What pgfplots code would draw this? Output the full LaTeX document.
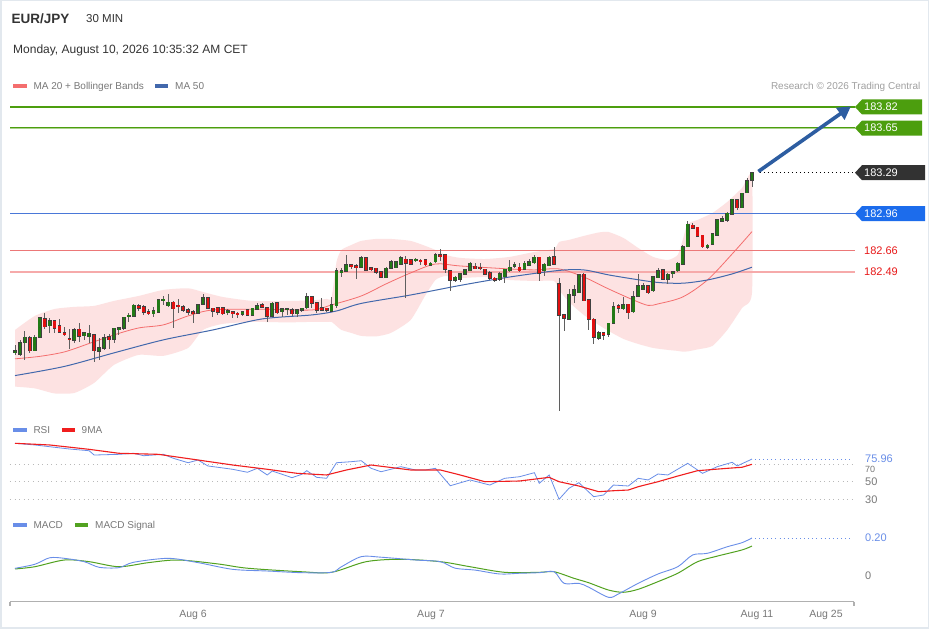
\documentclass[border=0pt]{standalone}
\usepackage{pgfplots}
\pgfplotsset{compat=1.18}
\usepackage{pgfplotstable}
\usetikzlibrary{arrows.meta}
\usepackage{fontspec}
\setmainfont{Liberation Sans}
\newcommand{\fs}[1]{\fontsize{#1}{#1}\selectfont}
\definecolor{upc}{RGB}{34,122,22}
\definecolor{dnc}{RGB}{226,16,16}
\definecolor{edgec}{RGB}{64,64,64}
\definecolor{wickc}{RGB}{95,95,95}
\definecolor{bandc}{RGB}{253,226,226}
\definecolor{ma20c}{RGB}{244,110,110}
\definecolor{ma50c}{RGB}{66,104,172}
\definecolor{tgreen}{RGB}{76,158,14}
\definecolor{tgreenl}{RGB}{170,210,140}
\definecolor{tblue}{RGB}{28,108,236}
\definecolor{lblue}{RGB}{74,120,216}
\definecolor{tdark}{RGB}{50,50,50}
\definecolor{lblred}{RGB}{232,24,24}
\definecolor{l66}{RGB}{236,120,120}
\definecolor{l49}{RGB}{246,170,170}
\definecolor{rsic}{RGB}{105,142,232}
\definecolor{marc}{RGB}{240,30,30}
\definecolor{sigc}{RGB}{82,162,32}
\definecolor{txtc}{RGB}{51,51,51}
\definecolor{legc}{RGB}{120,120,120}
\definecolor{resc}{RGB}{160,160,160}
\definecolor{gridc}{RGB}{185,185,185}
\definecolor{axc}{RGB}{176,176,176}
\definecolor{framec}{RGB}{226,232,238}
\definecolor{arrowc}{RGB}{45,93,161}

\pgfplotstableread{
i o h l c
0 181.845 181.901 181.821 181.853
1 181.829 181.942 181.813 181.920
2 181.920 182.014 181.780 181.963
4 181.855 181.979 181.851 181.963
5 181.963 182.125 181.960 182.119
7 182.057 182.119 182.000 182.097
12 181.942 182.036 181.915 182.022
14 181.976 182.008 181.942 182.000
15 181.968 182.063 181.915 181.996
17 181.853 181.955 181.780 181.877
18 181.875 181.988 181.861 181.960
20 181.947 182.040 181.915 182.036
21 182.028 182.049 181.982 182.038
22 182.036 182.130 182.022 182.125
23 182.130 182.159 182.089 182.141
24 182.135 182.232 182.132 182.221
28 182.154 182.205 182.125 182.178
29 182.165 182.274 182.157 182.264
30 182.258 182.296 182.224 182.270
31 182.218 182.312 182.210 182.245
37 182.157 182.230 182.154 182.226
38 182.229 182.312 182.226 182.283
43 182.165 182.191 182.143 182.175
46 182.149 182.175 182.135 182.170
48 182.143 182.202 182.135 182.197
49 182.191 182.237 182.183 182.216
52 182.135 182.250 182.130 182.237
54 182.170 182.202 182.130 182.191
55 182.186 182.202 182.143 182.191
57 182.154 182.191 182.127 182.186
58 182.181 182.202 182.170 182.197
59 182.202 182.318 182.191 182.288
64 182.175 182.291 182.170 182.224
65 182.218 182.519 182.202 182.498
66 182.487 182.524 182.452 182.498
67 182.498 182.627 182.495 182.546
70 182.528 182.621 182.519 182.605
75 182.445 182.530 182.439 182.519
76 182.519 182.586 182.511 182.573
77 182.524 182.581 182.521 182.570
78 182.554 182.619 182.546 182.605
81 182.581 182.602 182.570 182.592
84 182.544 182.570 182.538 182.560
85 182.573 182.641 182.565 182.627
89 182.425 182.458 182.409 182.447
90 182.431 182.482 182.409 182.474
91 182.474 182.517 182.466 182.506
92 182.501 182.570 182.494 182.560
98 182.431 182.490 182.417 182.474
99 182.452 182.519 182.404 182.513
100 182.501 182.586 182.490 182.528
101 182.538 182.570 182.521 182.548
103 182.513 182.579 182.506 182.560
104 182.546 182.597 182.538 182.573
105 182.565 182.627 182.554 182.608
107 182.501 182.560 182.458 182.552
108 182.542 182.619 182.538 182.608
112 182.111 182.350 182.107 182.310
113 182.304 182.385 182.237 182.345
114 182.323 182.474 182.320 182.466
118 181.955 182.014 181.942 182.000
120 181.990 182.081 181.968 182.076
121 182.076 182.250 182.071 182.210
123 182.194 182.286 182.183 182.224
125 182.170 182.339 182.162 182.291
126 182.296 182.474 182.291 182.379
127 182.353 182.404 182.345 182.379
129 182.339 182.458 182.331 182.452
130 182.444 182.519 182.439 182.498
132 182.431 182.479 182.398 182.471
133 182.479 182.498 182.439 182.490
134 182.501 182.573 182.493 182.560
135 182.554 182.707 182.546 182.694
136 182.694 182.901 182.689 182.874
140 182.689 182.715 182.673 182.707
141 182.715 182.801 182.710 182.796
142 182.788 182.915 182.780 182.909
143 182.901 182.941 182.893 182.917
144 182.909 182.976 182.896 182.963
145 182.955 183.081 182.950 183.076
147 183.008 183.129 183.003 183.124
148 183.129 183.245 183.124 183.226
149 183.231 183.298 183.177 183.290
}\upT

\pgfplotstableread{
i o h l c
3 181.958 181.976 181.839 181.855
6 182.113 182.162 182.028 182.049
8 182.097 182.103 181.996 182.036
9 182.054 182.111 181.996 182.004
10 182.000 182.049 181.974 181.988
11 181.950 182.030 181.867 181.945
13 182.028 182.081 181.928 181.976
16 181.982 181.990 181.767 181.855
19 181.968 181.988 181.869 181.942
25 182.216 182.232 182.178 182.200
26 182.210 182.221 182.141 182.167
27 182.167 182.194 182.146 182.154
32 182.245 182.258 182.041 182.194
33 182.220 182.274 182.157 182.212
34 182.210 182.224 182.167 182.183
35 182.183 182.197 182.143 182.165
36 182.170 182.183 182.081 182.157
39 182.283 182.291 182.191 182.197
40 182.197 182.202 182.130 182.175
41 182.202 182.210 182.143 182.165
42 182.202 182.210 182.143 182.154
44 182.170 182.175 182.117 182.154
45 182.157 182.165 182.117 182.151
47 182.183 182.191 182.135 182.141
50 182.224 182.237 182.202 182.208
51 182.202 182.210 182.089 182.133
53 182.242 182.250 182.154 182.162
56 182.186 182.202 182.135 182.154
60 182.288 182.296 182.197 182.237
61 182.240 182.250 182.157 182.181
62 182.202 182.278 182.175 182.181
63 182.197 182.202 182.170 182.181
68 182.546 182.552 182.514 182.532
69 182.538 182.552 182.431 182.530
71 182.605 182.613 182.498 182.503
72 182.524 182.530 182.494 182.508
73 182.519 182.524 182.475 182.487
74 182.492 182.498 182.439 182.449
79 182.592 182.619 182.278 182.560
80 182.586 182.594 182.546 182.554
82 182.586 182.592 182.546 182.578
83 182.586 182.594 182.538 182.548
86 182.627 182.673 182.581 182.619
87 182.627 182.635 182.479 182.513
88 182.501 182.506 182.339 182.425
93 182.538 182.562 182.514 182.519
94 182.528 182.560 182.506 182.517
95 182.513 182.517 182.466 182.474
96 182.484 182.498 182.425 182.439
97 182.439 182.449 182.409 182.425
102 182.528 182.562 182.490 182.501
106 182.608 182.613 182.417 182.479
109 182.613 182.694 182.546 182.554
110 182.393 182.444 181.369 182.143
111 182.143 182.151 182.016 182.115
115 182.471 182.484 182.256 182.258
116 182.264 182.270 182.025 182.107
117 182.108 182.117 181.910 181.963
119 182.000 182.008 181.942 181.982
122 182.218 182.229 182.162 182.197
124 182.229 182.232 182.108 182.162
128 182.379 182.385 182.312 182.323
131 182.506 182.511 182.425 182.431
137 182.868 182.882 182.834 182.842
138 182.850 182.855 182.775 182.780
139 182.786 182.791 182.681 182.694
146 183.070 183.076 182.989 183.008
}\dnT

% Bollinger envelope: upper band left to right, then lower band right to left
\pgfplotstableread{
i b
0 182.022
4 182.135
8 182.191
12 182.208
16 182.216
20 182.256
25 182.296
30 182.345
35 182.358
38 182.328
42 182.288
48 182.256
55 182.256
60 182.260
63 182.272
64 182.280
65 182.570
66 182.667
68 182.707
70 182.740
73 182.756
76 182.756
80 182.740
83 182.699
85 182.667
87 182.627
90 182.603
95 182.594
100 182.611
105 182.651
109 182.675
110 182.731
112 182.748
115 182.780
118 182.808
120 182.812
123 182.764
126 182.683
129 182.611
132 182.586
134 182.627
135 182.748
136 182.877
138 182.909
141 182.965
144 183.054
147 183.167
149 183.258
149 182.318
147 182.200
144 182.022
141 181.893
138 181.865
136 181.849
135 181.847
134 181.853
132 181.861
129 181.877
126 181.909
123 181.950
120 182.014
118 182.063
115 182.143
112 182.248
110 182.345
109 182.417
105 182.417
100 182.425
95 182.449
90 182.441
87 182.457
85 182.425
83 182.304
80 182.103
76 181.998
73 181.970
70 181.974
68 181.998
66 182.022
65 182.054
64 182.087
63 182.087
60 182.087
55 182.083
48 182.087
42 182.071
38 182.022
35 181.877
30 181.813
25 181.821
20 181.740
16 181.595
12 181.514
8 181.510
4 181.551
0 181.565
}\bandP

\pgfplotstableread{
i v
0 181.789
5 181.809
10 181.845
15 181.913
20 181.982
25 182.038
30 182.063
35 182.135
40 182.183
50 182.189
60 182.183
64 182.224
70 182.296
75 182.393
80 182.482
85 182.554
90 182.538
100 182.514
105 182.506
110 182.514
115 182.449
120 182.353
125 182.264
128 182.220
130 182.232
135 182.288
140 182.425
145 182.635
149 182.815
}\maA

\pgfplotstableread{
i v
0 181.654
10 181.728
20 181.837
30 181.942
40 182.022
50 182.111
60 182.143
65 182.175
70 182.236
80 182.304
90 182.381
100 182.449
110 182.502
115 182.506
120 182.466
125 182.433
130 182.405
135 182.399
140 182.425
145 182.474
149 182.528
}\maB

\pgfplotstableread{
i v
0 94.0
4 92.1
7 90.1
11 87.5
15 85.5
16 80.6
21 81.4
24 82.6
26 79.8
30 81.4
32 76.9
35 71.8
37 74.9
39 68.1
41 66.6
44 64.3
47 60.9
49 65.4
51 57.8
52 62.3
54 58.6
56 54.7
58 58.6
59 62.7
61 55.1
63 54.0
65 71.8
68 73.0
70 74.1
72 65.4
74 61.5
76 64.3
78 67.3
81 63.5
83 63.5
85 65.4
88 45.5
92 52.1
96 46.3
99 54.0
102 55.8
105 60.4
106 48.3
108 57.8
110 30.0
112 42.6
114 49.0
117 33.0
119 34.9
121 46.3
124 45.2
126 54.0
128 52.1
130 58.9
132 57.8
136 71.1
139 59.7
142 67.3
145 72.3
146 68.1
149 75.96
}\rsiT

\pgfplotstableread{
i v
0 94.0
7 92.1
15 87.1
21 82.6
29 81.4
37 74.9
44 69.2
51 64.3
57 59.7
63 57.8
67 63.5
72 69.2
80 63.5
86 63.5
90 57.8
95 50.1
102 50.9
108 55.1
110 50.1
114 45.2
118 38.7
121 39.8
124 40.6
126 44.4
130 50.1
134 56.6
138 62.7
144 65.4
147 66.6
149 70.0
}\rsimaT

\pgfplotstableread{
i v
0 0.0375
4 0.059
7 0.094
10 0.091
14 0.073
17 0.043
21 0.041
24 0.070
31 0.091
37 0.068
44 0.032
51 0.023
58 0.014
64 0.016
66 0.046
70 0.100
74 0.097
81 0.082
86 0.073
89 0.038
93 0.028
98 0.007
102 0.011
106 0.014
109 0.019
111 -0.043
114 -0.043
116 -0.064
120 -0.118
122 -0.100
126 -0.043
130 0.007
134 0.046
137 0.109
140 0.118
144 0.153
147 0.175
149 0.200
}\macdT

\pgfplotstableread{
i v
0 0.034
4 0.046
10 0.082
15 0.073
21 0.046
27 0.068
33 0.082
41 0.061
47 0.038
58 0.019
64 0.016
71 0.073
78 0.086
86 0.073
92 0.046
99 0.016
106 0.016
109 0.019
113 -0.016
116 -0.040
120 -0.079
123 -0.091
126 -0.075
130 -0.034
134 0.011
138 0.073
142 0.103
147 0.136
149 0.157
}\sigT

\pgfplotsset{
  panel/.style={scale only axis, width=844pt, xmin=-1.011, xmax=169.63,
    enlargelimits=false, clip=false, anchor=south west},
  wick/.style={only marks, mark size=0pt, mark options={draw=none, fill=none}, forget plot,
    error bars/.cd, y dir=both, y explicit, error mark=none,
    error bar style={draw=wickc, line width=0.8pt}},
  body/.style 2 args={only marks, mark size=0pt, mark options={draw=none, fill=none}, forget plot,
    error bars/.cd, y dir=both, y explicit, error mark=none,
    error bar style={draw=#1, line width=#2}},
}

\begin{document}
\begin{tikzpicture}
\fill[white] (0,0) rectangle (929pt,629pt);
\draw[framec, line width=1.5pt] (0.75pt,0.75pt) rectangle (928.25pt,628.25pt);

% titles
\node[anchor=base west, inner sep=0, text=txtc, font=\fs{13.5}\bfseries] at (11.5pt,605pt) {EUR/JPY};
\node[anchor=base west, inner sep=0, text=txtc, font=\fs{11.5}] at (86pt,606pt) {30 MIN};
\node[anchor=base west, inner sep=0, text=txtc, font=\fs{12}] at (13pt,575.7pt) {Monday, August 10, 2026 10:35:32 AM CET};
\fill[ma20c] (13.3pt,540.7pt) rectangle (26.7pt,544.7pt);
\node[anchor=base west, inner sep=0, text=legc, font=\fs{10}] at (33.3pt,539pt) {MA 20 + Bollinger Bands};
\fill[ma50c] (155.3pt,540.7pt) rectangle (168.3pt,544.7pt);
\node[anchor=base west, inner sep=0, text=legc, font=\fs{10}] at (175pt,539pt) {MA 50};
\node[anchor=base east, inner sep=0, text=resc, font=\fs{10}] at (920.5pt,539pt) {Research © 2026 Trading Central};

% RSI / MACD legends
\fill[rsic] (13.3pt,197pt) rectangle (26.7pt,201pt);
\node[anchor=base west, inner sep=0, text=legc, font=\fs{10}] at (33.3pt,195.5pt) {RSI};
\fill[marc] (62pt,197pt) rectangle (74.5pt,201pt);
\node[anchor=base west, inner sep=0, text=legc, font=\fs{10}] at (81.5pt,195.5pt) {9MA};
\fill[rsic] (13.3pt,101.5pt) rectangle (26.7pt,105.5pt);
\node[anchor=base west, inner sep=0, text=legc, font=\fs{10}] at (33.3pt,100.5pt) {MACD};
\fill[sigc] (75.3pt,101.5pt) rectangle (88pt,105.5pt);
\node[anchor=base west, inner sep=0, text=legc, font=\fs{10}] at (95pt,100.5pt) {MACD Signal};

% ---------------- price panel (plotted as price - 180)
\begin{axis}[panel, at={(10pt,209.52pt)}, height=324.88pt, ymin=1.30, ymax=3.92,
  axis lines=none, ticks=none, y filter/.expression={y-180}]
\addplot[fill=bandc, draw=none, forget plot, smooth, tension=0.35] table[x=i,y=b]{\bandP} -- cycle;

\addplot[tgreen, line width=2pt] coordinates {(-1.011,183.82) (169.83,183.82)};
\addplot[tgreen, line width=2.6pt] coordinates {(-1.011,183.65) (169.83,183.65)};
\addplot[tgreenl, line width=0.7pt] coordinates {(-1.011,183.65) (169.83,183.65)};
\addplot[lblue, line width=1.1pt] coordinates {(-1.011,182.96) (169.83,182.96)};
\addplot[l66, line width=1pt] coordinates {(-1.011,182.66) (169.83,182.66)};
\addplot[l49, line width=2pt] coordinates {(-1.011,182.49) (169.83,182.49)};
\addplot[black, line width=0.8pt, dash pattern=on 0.8pt off 3.2pt] coordinates {(150.6,183.29) (169.83,183.29)};

\addplot[ma20c, line width=0.8pt, smooth, tension=0.5] table[x=i,y=v]{\maA};
\addplot[ma50c, line width=1pt, smooth, tension=0.5] table[x=i,y=v]{\maB};

% candles
\addplot[wick] table[x=i, y expr={(\thisrow{h}+\thisrow{l})/2}, y error expr={(\thisrow{h}-\thisrow{l})/2}]{\upT};
\addplot[wick] table[x=i, y expr={(\thisrow{h}+\thisrow{l})/2}, y error expr={(\thisrow{h}-\thisrow{l})/2}]{\dnT};
\addplot[body={edgec}{3.8pt}] table[x=i, y expr={(\thisrow{o}+\thisrow{c})/2}, y error expr={abs(\thisrow{c}-\thisrow{o})/2+0.005}]{\upT};
\addplot[body={upc}{2.6pt}] table[x=i, y expr={(\thisrow{o}+\thisrow{c})/2}, y error expr={abs(\thisrow{c}-\thisrow{o})/2}]{\upT};
\addplot[body={edgec}{3.8pt}] table[x=i, y expr={(\thisrow{o}+\thisrow{c})/2}, y error expr={abs(\thisrow{c}-\thisrow{o})/2+0.005}]{\dnT};
\addplot[body={dnc}{2.6pt}] table[x=i, y expr={(\thisrow{o}+\thisrow{c})/2}, y error expr={abs(\thisrow{c}-\thisrow{o})/2}]{\dnT};

% arrow (axis units: price - 180)
\draw[arrowc, line width=3.6pt, -{Triangle[length=13pt,width=14pt]}] (axis cs:150.3,3.30) -- (axis cs:169.0,3.825);

% tags
\fill[tgreen] (axis cs:169.83,3.82) -- ++(7pt,7.5pt) -- ++(60pt,0pt) -- ++(0pt,-15pt) -- ++(-60pt,0pt) -- cycle;
\node[anchor=west, inner sep=0, text=white, font=\fs{11}] at ([xshift=9pt]axis cs:169.83,3.82) {183.82};
\fill[tgreen] (axis cs:169.83,3.65) -- ++(7pt,7.5pt) -- ++(60pt,0pt) -- ++(0pt,-15pt) -- ++(-60pt,0pt) -- cycle;
\node[anchor=west, inner sep=0, text=white, font=\fs{11}] at ([xshift=9pt]axis cs:169.83,3.65) {183.65};
\fill[tdark] (axis cs:169.83,3.29) -- ++(7pt,7.5pt) -- ++(63pt,0pt) -- ++(0pt,-15pt) -- ++(-63pt,0pt) -- cycle;
\node[anchor=west, inner sep=0, text=white, font=\fs{11}] at ([xshift=9pt]axis cs:169.83,3.29) {183.29};
\fill[tblue] (axis cs:169.83,2.96) -- ++(7pt,7.5pt) -- ++(63pt,0pt) -- ++(0pt,-15pt) -- ++(-63pt,0pt) -- cycle;
\node[anchor=west, inner sep=0, text=white, font=\fs{11}] at ([xshift=9pt]axis cs:169.83,2.96) {182.96};
\node[anchor=west, inner sep=0, text=lblred, font=\fs{11}] at ([xshift=9pt]axis cs:169.83,2.66) {182.66};
\node[anchor=west, inner sep=0, text=lblred, font=\fs{11}] at ([xshift=9pt]axis cs:169.83,2.49) {182.49};
\end{axis}

% ---------------- RSI panel
\begin{axis}[panel, at={(10pt,125.325pt)}, height=65.625pt, ymin=25, ymax=100,
  axis lines=none, ticks=none]
\addplot[gridc, line width=0.9pt, dash pattern=on 0.9pt off 3.7pt] coordinates {(-1.011,70) (169.2,70)};
\addplot[gridc, line width=0.9pt, dash pattern=on 0.9pt off 3.7pt] coordinates {(-1.011,50) (169.2,50)};
\addplot[gridc, line width=0.9pt, dash pattern=on 0.9pt off 3.7pt] coordinates {(-1.011,30) (169.2,30)};
\addplot[rsic, line width=0.9pt, dash pattern=on 0.9pt off 3.2pt] coordinates {(149.6,75.96) (169.2,75.96)};
\addplot[rsic, line width=0.8pt] table[x=i,y=v]{\rsiT};
\addplot[marc, line width=1.1pt] table[x=i,y=v]{\rsimaT};
\node[anchor=west, inner sep=0, text=rsic, font=\fs{11}] at (axis cs:171.86,75.96) {75.96};
\node[anchor=west, inner sep=0, text=legc, font=\fs{9}] at (axis cs:171.86,64.6) {70};
\node[anchor=west, inner sep=0, text=legc, font=\fs{11}] at (axis cs:171.86,50) {50};
\node[anchor=west, inner sep=0, text=legc, font=\fs{11}] at (axis cs:171.86,30) {30};
\end{axis}

% ---------------- MACD panel
\begin{axis}[panel, at={(10pt,27.4pt)}, height=67.33pt, ymin=-0.141, ymax=0.22,
  axis x line*=bottom, axis y line=none, ytick=\empty,
  x axis line style={-, draw=axc, line width=1.6pt},
  xtick={35.99,84.1,126.97,150.0,163.97},
  xticklabels={Aug 6,Aug 7,Aug 9,Aug 11,Aug 25},
  xtick style={draw=none}, major tick length=0pt,
  xticklabel style={font=\fs{10.5}, text=legc, anchor=base, yshift=-15.5pt, inner sep=0pt}]
\addplot[rsic, line width=0.9pt, dash pattern=on 0.9pt off 3.2pt] coordinates {(149.6,0.20) (169.2,0.20)};
\addplot[sigc, line width=1pt, smooth, tension=0.5] table[x=i,y=v]{\sigT};
\addplot[rsic, line width=0.9pt, smooth, tension=0.5] table[x=i,y=v]{\macdT};
\node[anchor=west, inner sep=0, text=rsic, font=\fs{11}] at (axis cs:171.86,0.20) {0.20};
\node[anchor=west, inner sep=0, text=legc, font=\fs{11}] at (axis cs:171.86,0) {0};
\draw[axc, line width=1.5pt] (axis cs:-1.011,-0.141) -- ++(0pt,-4.5pt);
\draw[axc, line width=1.5pt] (axis cs:169.63,-0.141) -- ++(0pt,-4.5pt);
\end{axis}
\end{tikzpicture}
\end{document}
